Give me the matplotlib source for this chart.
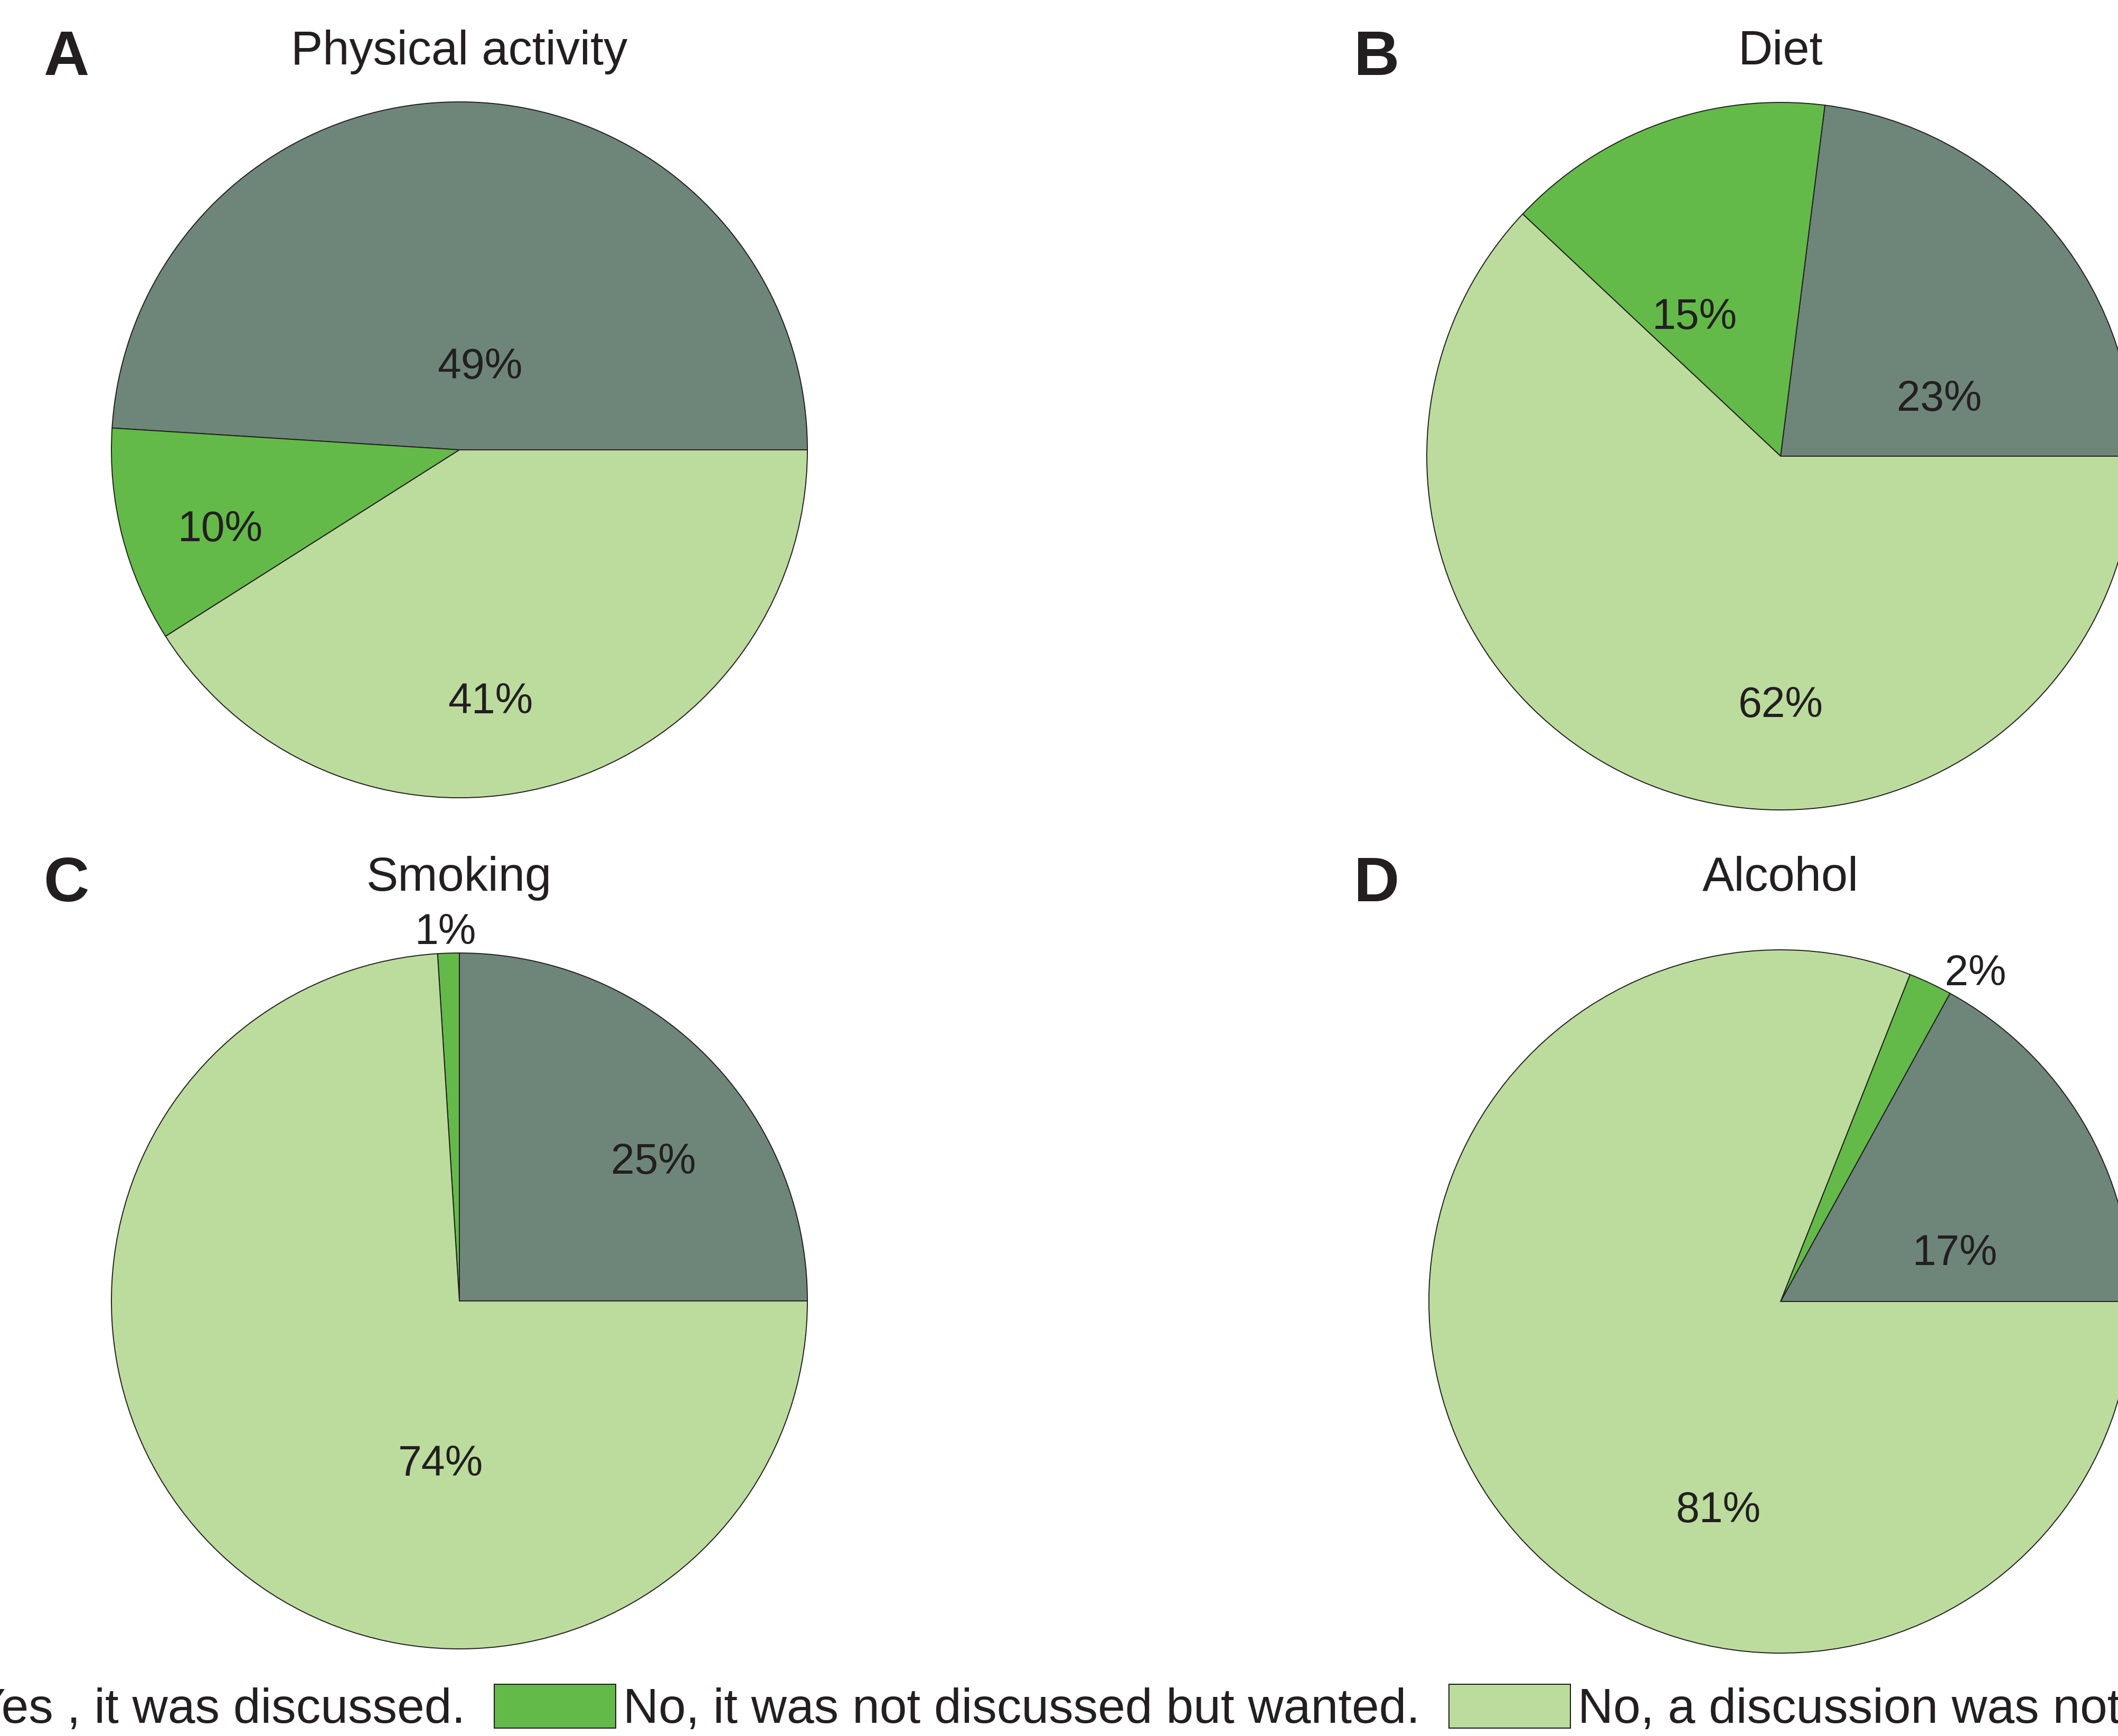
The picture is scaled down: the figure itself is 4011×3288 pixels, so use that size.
import matplotlib
matplotlib.use("Agg")
from matplotlib import pyplot as plt
from matplotlib.patches import Patch

W, H = 4012, 3288
DPI = 100

plt.rcParams['font.family'] = ['Liberation Sans', 'DejaVu Sans']

titles = ["Physical activity", "Diet", "Smoking", "Alcohol"]
letters = ["A", "B", "C", "D"]
categories = ["Yes , it was discussed.",
              "No, it was not discussed but wanted.",
              "No, a discussion was not wanted."]
activity = [49, 10, 41]
diet = [23, 15, 62]
smoking = [25, 1, 74]
alcohol = [17, 2, 81]
colors = ["#6e8679", "#63ba48", "#bbdc9d"]
ink = "#231f20"

# layout in full-size pixels: pie centre x, y and radius
pies = [(870, 852, 659), (3372, 864, 670), (870, 2464, 659), (3372, 2465, 666)]
# percentage label spots, in units of the pie radius
label_xy = [
    [(0.059, 0.249), (-0.686, -0.217), (0.089, -0.713)],
    [(0.448, 0.173), (-0.243, 0.403), (0.0, -0.693)],
    [(0.558, 0.411), (-0.039, 1.07), (-0.054, -0.457)],
    [(0.496, 0.148), (0.554, 0.944), (-0.177, -0.583)],
]
title_base = [122, 122, 1687, 1687]
letter_pos = [(125, 142), (2607, 142), (125, 1707), (2607, 1707)]


def fx(x):
    return x / W


def fy(y):
    return 1 - y / H


fig = plt.figure(figsize=(W / DPI, H / DPI), dpi=DPI)

for i, values in enumerate([activity, diet, smoking, alcohol]):
    cx, cy, r = pies[i]
    ax = fig.add_axes([fx(cx - r), fy(cy + r), 2 * r / W, 2 * r / H])
    wedges, _ = ax.pie(values, colors=colors, startangle=0, counterclock=True,
                       radius=1,
                       wedgeprops=dict(edgecolor=ink, linewidth=1.4))
    for w in wedges:
        w.set_clip_on(False)
    ax.set_xlim(-1, 1)
    ax.set_ylim(-1, 1)
    ax.set_aspect("equal")
    ax.axis("off")
    for v, (lx, ly) in zip(values, label_xy[i]):
        ax.text(lx, ly, f"{v}%", ha="center", va="center_baseline",
                fontsize=58, color=ink)

    fig.text(fx(cx), fy(title_base[i]), titles[i], ha="center",
             va="baseline", fontsize=65, color=ink)
    fig.text(fx(letter_pos[i][0]), fy(letter_pos[i][1]), letters[i],
             ha="center", va="baseline", fontsize=86, fontweight="bold",
             color=ink)

handles = [Patch(facecolor=c, edgecolor=ink, linewidth=1.5) for c in colors]
fig.legend(handles, categories, loc="center left",
           bbox_to_anchor=(-295 / W, fy(3236)), ncol=3, frameon=False,
           fontsize=67, handlelength=2.47, handleheight=1.0,
           handletextpad=0.15, columnspacing=0.59, borderpad=0,
           borderaxespad=0, labelcolor=ink)

fig.savefig("out.png", dpi=DPI)
